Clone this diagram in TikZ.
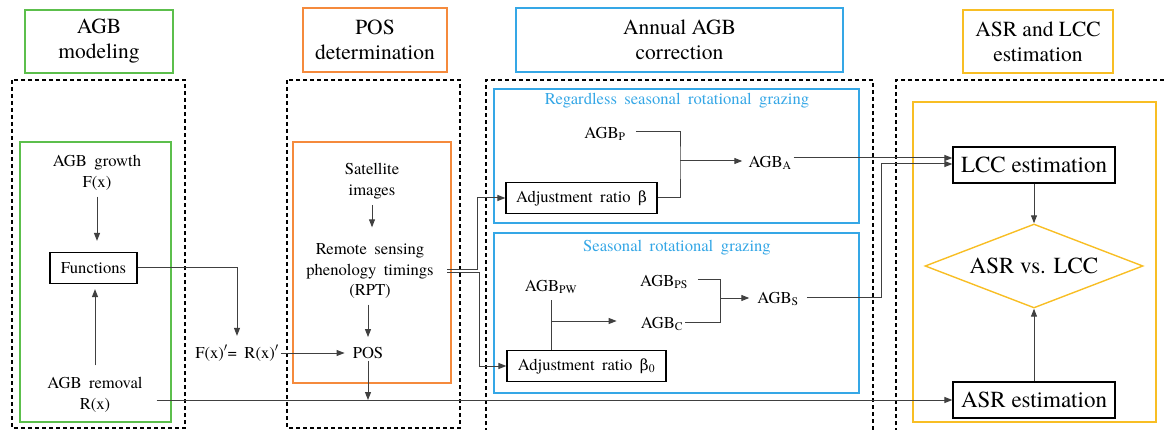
\documentclass[tikz,border=0pt]{standalone}
\usepackage{fontspec}
\setmainfont{texgyretermes}[Extension=.otf, UprightFont=*-regular, BoldFont=*-bold, ItalicFont=*-italic, BoldItalicFont=*-bolditalic]
\newfontfamily\bodyfont{texgyretermes}[Extension=.otf, UprightFont=*-regular, BoldFont=*-bold, ItalicFont=*-italic, BoldItalicFont=*-bolditalic, WordSpace=1.8]
\newfontfamily\grkfont{DejaVu Serif}[Scale=0.92]
\usetikzlibrary{arrows.meta,shapes.geometric}
\definecolor{cgreen}{HTML}{5CBF4C}
\definecolor{corange}{HTML}{F58A3C}
\definecolor{cblue}{HTML}{35A7E6}
\definecolor{cyellow}{HTML}{F8BE24}
\definecolor{cline}{HTML}{404040}
\begin{document}
\begin{tikzpicture}[x=1pt,y=-1pt,
 title/.style={draw=#1, line width=1.4pt, minimum height=63pt, align=center, font=\fontsize{21.5}{25}\selectfont, inner sep=0pt},
 region/.style={draw=#1, line width=1.4pt},
 dashbox/.style={draw=black, line width=1.2pt, dash pattern=on 4pt off 3pt},
 lbl/.style={align=center, font=\bodyfont\fontsize{16.6}{20.5}\selectfont, inner sep=2pt},
 sublbl/.style={text=cblue, font=\bodyfont\fontsize{16.6}{19}\selectfont, inner sep=2pt},
 stepbox/.style={draw=black, line width=1.2pt, minimum height=31pt, font=\bodyfont\fontsize{16.6}{19}\selectfont, inner sep=0pt},
 bigbox/.style={draw=black, line width=1.2pt, minimum width=162pt, minimum height=36pt, font=\fontsize{23}{26}\selectfont, inner sep=0pt},
 con/.style={draw=cline, line width=1pt},
 arr/.style={con, -{Triangle[length=8pt,width=6pt]}},
]
\useasboundingbox (0,0) rectangle (1164,430);

% titles
\node[title=cgreen, minimum width=148pt] (tAGB) at (99,41.5) {AGB\\modeling};
\node[title=corange, minimum width=144pt, minimum height=64pt] (tPOS) at (375,40) {POS\\determination};
\node[title=cblue, minimum width=327pt, minimum height=64pt] (tAnn) at (679.5,40) {Annual AGB\\correction};
\node[title=cyellow, minimum width=150pt] (tASR) at (1038,41.5) {ASR and LCC\\estimation};

% dashed frames
\draw[dashbox] (12,80) rectangle (185,428);
\draw[dashbox] (287,80) rectangle (460,428);
\draw[dashbox] (486,432) -- (486,80) -- (873,80) -- (873,432);
\draw[dashbox] (896,432) -- (896,80) -- (1164,80);

% coloured regions
\draw[region=cgreen] (20,142) rectangle (171,422);
\draw[region=corange] (293,142) rectangle (451,383);
\draw[region=cblue] (494,89) rectangle (859,223);
\draw[region=cblue] (494,233) rectangle (859,393);
\draw[region=cyellow] (913,102) rectangle (1156,422);

% AGB modeling
\node[lbl] (growth) at (97,173) {AGB growth\\F(x)};
\node[stepbox, minimum width=87pt] (func) at (93.5,268) {Functions};
\node[lbl] (removal) at (95,395) {AGB removal\\R(x)};
\node[lbl] (eq) at (237,353) {F(x)$'$= R(x)$'$};

% POS determination
\node[lbl] (sat) at (372,181) {Satellite\\images};
\node[lbl, minimum width=154pt] (rpt) at (370,271) {Remote sensing\\phenology timings\\(RPT)};
\node[lbl] (pos) at (368,353) {POS};

% Annual AGB correction
\node[sublbl] (lblA) at (677,101) {Regardless seasonal rotational grazing};
\node[lbl] (agbp) at (605,134) {AGB\textsubscript{P}};
\node[stepbox, minimum width=151pt] (adjb) at (581.5,198) {Adjustment ratio {\grkfont β}};
\node[lbl] (agba) at (770,163) {AGB\textsubscript{A}};

\node[sublbl] (lblB) at (677,248) {Seasonal rotational grazing};
\node[lbl] (agbpw) at (551,287) {AGB\textsubscript{PW}};
\node[lbl] (agbps) at (664,282) {AGB\textsubscript{PS}};
\node[lbl] (agbc) at (662,324) {AGB\textsubscript{C}};
\node[lbl] (agbs) at (778,299) {AGB\textsubscript{S}};
\node[stepbox, minimum width=159pt] (adjb0) at (586.5,366) {Adjustment ratio {\grkfont β}\textsubscript{0}};

% ASR and LCC estimation
\node[bigbox] (lcc) at (1034,165) {LCC estimation};
\node[diamond, draw=cyellow, line width=1.4pt, aspect=2.6, minimum width=218pt, minimum height=84pt, inner sep=0pt, font=\fontsize{23}{26}\selectfont] (diam) at (1034,266) {ASR vs. LCC};
\node[bigbox] (asr) at (1034,400) {ASR estimation};

% connectors: AGB modeling
\draw[arr, shorten <=4pt, shorten >=11pt] (growth.south) -- (growth.south |- func.north);
\draw[arr, shorten <=10pt, shorten >=5pt] (removal.north) -- (removal.north |- func.south);
\draw[arr, shorten >=7pt] (func.east) -| (eq.north);
\draw[arr, shorten >=6pt] (eq.east) -- (pos.west);
\draw[arr, shorten <=12pt] (removal.east |- asr.west) -- (asr.west);

% connectors: POS
\draw[arr, shorten <=4pt, shorten >=14pt] (sat.south) -- (sat.south |- rpt.north);
\draw[arr, shorten <=4pt, shorten >=8pt] (rpt.south -| pos.north) -- (pos.north);
\draw[arr] (pos.south) -- (pos.south |- asr.west);
\draw[arr] ([yshift=1.5pt]rpt.east) -- ++(30,0) |- (adjb.west);
\draw[arr] ([yshift=-1.5pt]rpt.east) -- ++(32,0) |- (adjb0.west);

% connectors: Annual AGB
\coordinate (jA) at (680,161);
\draw[con, shorten <=8pt] ([yshift=2pt]agbp.east) -| (jA) |- (adjb.east);
\draw[arr, shorten >=4pt] (jA) -- (jA -| agba.west);
\draw[arr] ([yshift=5pt]agba.east) -- ([yshift=5pt]agba.east -| lcc.west);

\coordinate (jPW) at (551,321);
\draw[con, shorten <=4pt] (agbpw.south) -- (agbpw.south |- adjb0.north);
\draw[arr, shorten >=22pt] (jPW) -- (jPW -| agbc.west);
\coordinate (jS) at (720,298);
\draw[con, shorten <=8pt] ([yshift=2pt]agbps.east) -| (jS) |- ([yshift=2pt]agbc.east);
\draw[arr, shorten >=6pt] (jS) -- (jS -| agbs.west);
\draw[arr, shorten <=6pt] ([yshift=1.5pt]agbs.east) -| ([xshift=-71pt,yshift=1pt]lcc.west) -- ([yshift=1pt]lcc.west);

% connectors: ASR / LCC
\draw[arr] (lcc.south) -- (diam.north);
\draw[arr] (asr.north) -- (diam.south);
\end{tikzpicture}
\end{document}
